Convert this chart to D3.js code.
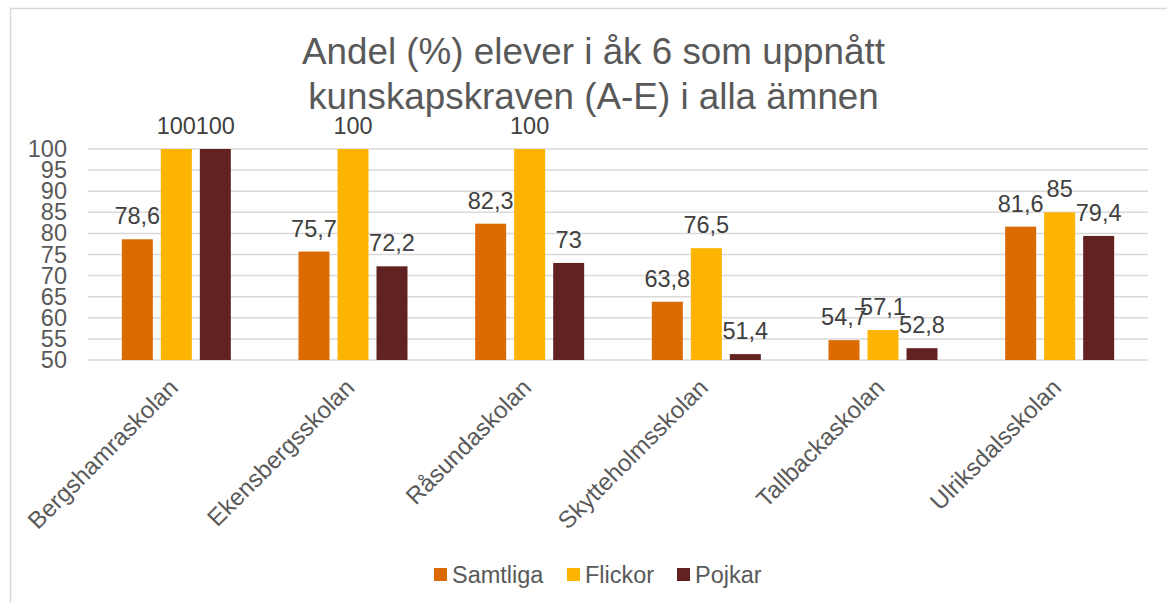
<!DOCTYPE html>
<html><head><meta charset="utf-8">
<script src="https://cdn.jsdelivr.net/npm/d3@7"></script>
<style>body{margin:0;background:#fff}svg{display:block;font-family:Arial,"Liberation Sans",sans-serif}</style>
</head><body><svg id="c" width="1167" height="603"></svg>
<script>
const categories = ["Bergshamraskolan","Ekensbergsskolan","Råsundaskolan","Skytteholmsskolan","Tallbackaskolan","Ulriksdalsskolan"];
const seriesNames = ["Samtliga","Flickor","Pojkar"];
const samtliga = [78.6, 75.7, 82.3, 63.8, 54.7, 81.6];
const flickor  = [100, 100, 100, 76.5, 57.1, 85];
const pojkar   = [100, 72.2, 73, 51.4, 52.8, 79.4];
const yTicks = [50,55,60,65,70,75,80,85,90,95,100];
const colors = ["#DB6A00","#FDB400","#632222"];
const titleLines = ["Andel (%) elever i åk 6 som uppnått","kunskapskraven (A-E) i alla ämnen"];

(function(){
const values = [samtliga, flickor, pojkar];
const svg = d3.select("#c");
svg.append("rect").attr("x",10.5).attr("y",8.5).attr("width",1200).attr("height",620)
  .attr("fill","none").attr("stroke","#d9d9d9").attr("stroke-width",1.5);

const pl=88, pr=1148, pt=149, pb=360;
const y = d3.scaleLinear().domain([50,100]).range([pb, pt]);
const x0 = d3.scaleBand().domain(categories).range([pl,pr]).padding(0);
const groupW = 109;
const x1 = d3.scaleBand().domain(seriesNames)
  .range([(x0.bandwidth()-groupW)/2, (x0.bandwidth()+groupW)/2]).paddingInner(8/39).paddingOuter(0);

svg.append("g").selectAll("line").data(yTicks).join("line")
  .attr("x1",pl).attr("x2",pr).attr("y1",d=>y(d)).attr("y2",d=>y(d))
  .attr("stroke","#d9d9d9").attr("stroke-width",1.5);

svg.append("g").selectAll("text").data(yTicks).join("text")
  .attr("x",67).attr("y",d=>y(d)+8).attr("text-anchor","end")
  .attr("font-size",23.5).attr("fill","#595959").text(d=>d);

const groups = svg.append("g").selectAll("g").data(categories).join("g")
  .attr("transform",c=>`translate(${x0(c)},0)`);
seriesNames.forEach((s,si)=>{
  groups.append("rect")
    .attr("x",x1(s)).attr("width",x1.bandwidth())
    .attr("y",(c,i)=>y(values[si][i])).attr("height",(c,i)=>y(50)-y(values[si][i]))
    .attr("fill",colors[si]);
});
seriesNames.forEach((s,si)=>{
  groups.append("text")
    .attr("x",x1(s)+x1.bandwidth()/2).attr("y",(c,i)=>y(values[si][i])-15)
    .attr("text-anchor","middle").attr("font-size",23.5).attr("fill","#404040")
    .text((c,i)=>String(values[si][i]).replace(".",","));
});

svg.append("g").selectAll("text").data(categories).join("text")
  .attr("transform",c=>`translate(${x0(c)+x0.bandwidth()/2+3},389) rotate(-45)`)
  .attr("text-anchor","end").attr("font-size",24).attr("fill","#595959").text(c=>c);

svg.append("g").selectAll("text").data(titleLines).join("text")
  .attr("x",593.5).attr("y",(d,i)=>64+i*45).attr("text-anchor","middle")
  .attr("font-size",36.8).attr("fill","#595959").text(d=>d);

const legX = [434, 567, 677];
const leg = svg.append("g").selectAll("g").data(seriesNames).join("g")
  .attr("transform",(d,i)=>`translate(${legX[i]},568)`);
leg.append("rect").attr("width",13).attr("height",13).attr("fill",(d,i)=>colors[i]);
leg.append("text").attr("x",18).attr("y",15).attr("font-size",23.5).attr("fill","#595959").text(d=>d);
})();
</script></body></html>
